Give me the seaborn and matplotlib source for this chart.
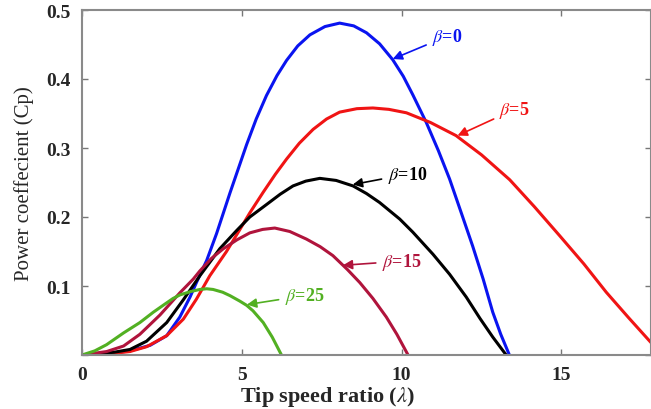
import pandas as pd
import matplotlib
matplotlib.use("Agg")
import matplotlib.pyplot as plt
import seaborn as sns

# Werte (Schnelllaufzahl lambda, Leistungsbeiwert Cp)
lam_b0 = [0, 0.5, 1.0, 1.5, 2.13, 2.65, 3.06, 3.38, 3.58, 3.9, 4.21, 4.63, 5.15, 5.45, 5.77,
          6.1, 6.4, 6.75, 7.13, 7.6, 8.06, 8.5, 8.9, 9.31, 9.72, 10.05, 10.35, 10.77, 11.15,
          11.5, 11.85, 12.22, 12.55, 12.85, 13.1, 13.37]
cp_b0 = [0, 0.001, 0.003, 0.006, 0.014, 0.028, 0.055, 0.084, 0.105, 0.137, 0.176, 0.235, 0.305,
         0.342, 0.376, 0.405, 0.427, 0.448, 0.464, 0.476, 0.481, 0.477, 0.467, 0.451, 0.428,
         0.404, 0.377, 0.337, 0.296, 0.255, 0.208, 0.158, 0.110, 0.062, 0.030, 0.0]

lam_b5 = [0, 0.7, 1.5, 2.02, 2.65, 3.17, 3.58, 4.0, 4.52, 4.94, 5.25, 5.67, 6.05, 6.4, 6.8,
          7.23, 7.65, 8.06, 8.6, 9.1, 9.6, 10.15, 10.9, 11.7, 12.5, 13.38, 14.15, 14.94, 15.7,
          16.4, 17.1, 17.8]
cp_b5 = [0, 0.001, 0.005, 0.012, 0.028, 0.052, 0.081, 0.115, 0.150, 0.182, 0.206, 0.236, 0.262,
         0.284, 0.307, 0.327, 0.342, 0.352, 0.357, 0.358, 0.356, 0.351, 0.337, 0.318, 0.290,
         0.254, 0.215, 0.173, 0.132, 0.091, 0.054, 0.018]

lam_b10 = [0, 1.0, 1.5, 2.02, 2.65, 3.17, 3.69, 4.31, 4.83, 5.25, 5.77, 6.2, 6.6, 7.0, 7.44,
           7.95, 8.48, 8.9, 9.31, 9.94, 10.35, 10.98, 11.5, 12.02, 12.45, 12.85, 13.27]
cp_b10 = [0, 0.004, 0.008, 0.020, 0.047, 0.080, 0.115, 0.154, 0.180, 0.200, 0.218, 0.233, 0.245,
          0.252, 0.256, 0.253, 0.245, 0.234, 0.221, 0.197, 0.178, 0.146, 0.117, 0.084, 0.053,
          0.026, 0.0]

lam_b15 = [0, 0.77, 1.3, 1.81, 2.44, 3.06, 3.48, 3.69, 4.05, 4.42, 4.85, 5.25, 5.65, 6.03, 6.5,
           7.02, 7.45, 7.85, 8.3, 8.69, 9.1, 9.52, 9.85, 10.2]
cp_b15 = [0, 0.005, 0.013, 0.030, 0.058, 0.090, 0.110, 0.122, 0.140, 0.154, 0.167, 0.177, 0.182,
          0.184, 0.179, 0.168, 0.157, 0.144, 0.124, 0.105, 0.082, 0.055, 0.030, 0.0]

lam_b25 = [0, 0.4, 0.77, 1.3, 1.81, 2.23, 2.6, 2.85, 3.06, 3.4, 3.69, 3.9, 4.1, 4.4, 4.63, 4.94,
           5.15, 5.35, 5.67, 5.95, 6.24]
cp_b25 = [0, 0.006, 0.015, 0.032, 0.047, 0.062, 0.074, 0.082, 0.087, 0.092, 0.095, 0.096, 0.095,
          0.091, 0.086, 0.078, 0.072, 0.064, 0.047, 0.026, 0.0]

curves = {"0": (lam_b0, cp_b0), "5": (lam_b5, cp_b5), "10": (lam_b10, cp_b10),
          "15": (lam_b15, cp_b15), "25": (lam_b25, cp_b25)}
colors = {"0": "#0a14f0", "5": "#f01414", "10": "#000000", "15": "#b0143c", "25": "#52b022"}

# Pfeil-Beschriftungen: Pfeilspitze (lambda, Cp) und Textposition
label_tip = {"0": (9.72, 0.429), "5": (11.75, 0.318), "10": (8.47, 0.247),
             "15": (8.16, 0.130), "25": (5.16, 0.073)}
label_txt = {"0": (10.95, 0.462), "5": (13.06, 0.356), "10": (9.56, 0.262),
             "15": (9.38, 0.136), "25": (6.34, 0.086)}

frames = []
for beta, (lam, cp) in curves.items():
    frames.append(pd.DataFrame({"lambda": lam, "Cp": cp, "beta": beta}))
df = pd.concat(frames, ignore_index=True)

sns.set_style("ticks")
plt.rcParams["font.family"] = ["Liberation Serif", "DejaVu Serif"]
plt.rcParams["mathtext.fontset"] = "stix"

fig = plt.figure(figsize=(6.51, 4.10), dpi=100)
ax = fig.add_axes([82 / 651, 54 / 410, 569 / 651, 345 / 410])

sns.lineplot(data=df, x="lambda", y="Cp", hue="beta", palette=colors,
             linewidth=2.2, legend=False, ax=ax, estimator=None, sort=False)

for beta in curves:
    c = colors[beta]
    ax.annotate(r"$\beta$=" + beta, xy=label_tip[beta], xytext=label_txt[beta],
                ha="left", va="center", color=c, fontsize=13, fontweight="bold",
                arrowprops=dict(arrowstyle="-|>", color=c, lw=1.2, mutation_scale=14,
                                shrinkA=2, shrinkB=0))

ax.set_xlim(0, 17.8)
ax.set_ylim(0, 0.5)
ax.set_xticks([0, 5, 10, 15])
ax.set_xticklabels(["0", "5", "10", "15"])
ax.set_yticks([0, 0.1, 0.2, 0.3, 0.4, 0.5])
ax.set_yticklabels(["", "0.1", "0.2", "0.3", "0.4", "0.5"])
ax.tick_params(direction="in", length=4, width=1, color="#777777", top=True, right=True,
               labelsize=14, pad=8)
for lab in ax.get_xticklabels() + ax.get_yticklabels():
    lab.set_fontweight("bold")
for sp in ax.spines.values():
    sp.set_visible(True)
    sp.set_color("#8a8a8a")
    sp.set_linewidth(1.5)

ax.set_xlabel(r"Tip speed ratio ($\lambda$)", fontsize=16, fontweight="bold")
ax.set_ylabel("Power coeffecient (Cp)", fontsize=15)
ax.xaxis.set_label_coords(0.432, -0.085)
ax.yaxis.set_label_coords(-0.085, 0.5)

fig.savefig("out.png", dpi=100)
